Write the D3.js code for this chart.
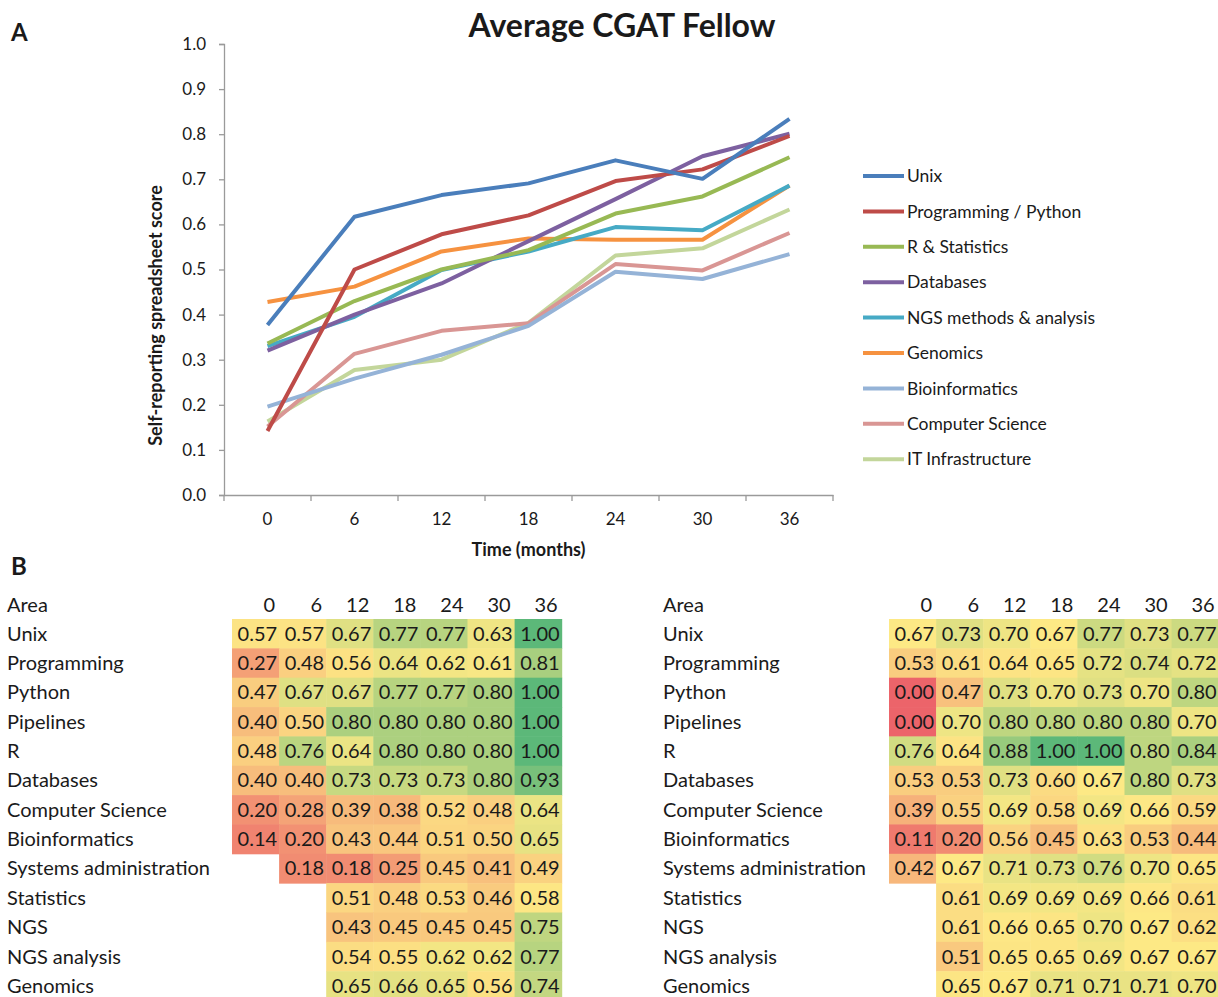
<!DOCTYPE html>
<html>
<head>
<meta charset="utf-8">
<script src="https://cdn.jsdelivr.net/npm/d3@7"></script>
<style>
  body { margin: 0; background: #fff; }
  svg { display: block; font-family: Lato, "Open Sans", sans-serif; }
</style>
</head>
<body>
<svg></svg>
<script>
// --- panel A data ---
var months = [0, 6, 12, 18, 24, 30, 36];
var seriesNames = ['Unix', 'Programming / Python', 'R & Statistics', 'Databases',
  'NGS methods & analysis', 'Genomics', 'Bioinformatics', 'Computer Science', 'IT Infrastructure'];
var seriesColors = ['#4a7ebb', '#be4b48', '#98b954', '#7d60a0', '#46aac5', '#f69240', '#95b3d7', '#d99694', '#c3d69b'];
var unix        = [0.377, 0.617, 0.665, 0.691, 0.742, 0.701, 0.834];
var programming = [0.142, 0.500, 0.578, 0.620, 0.696, 0.722, 0.796];
var rStats      = [0.336, 0.430, 0.500, 0.543, 0.624, 0.662, 0.749];
var databases   = [0.320, 0.400, 0.469, 0.563, 0.656, 0.751, 0.801];
var ngs         = [0.330, 0.395, 0.499, 0.540, 0.594, 0.587, 0.686];
var genomics    = [0.428, 0.462, 0.540, 0.569, 0.566, 0.566, 0.686];
var bioinf      = [0.196, 0.258, 0.311, 0.375, 0.495, 0.479, 0.534];
var compSci     = [0.152, 0.313, 0.364, 0.381, 0.512, 0.498, 0.581];
var itInfra     = [0.163, 0.277, 0.300, 0.382, 0.531, 0.547, 0.633];
var seriesValues = [unix, programming, rStats, databases, ngs, genomics, bioinf, compSci, itInfra];
var yTicks = [0, 0.1, 0.2, 0.3, 0.4, 0.5, 0.6, 0.7, 0.8, 0.9, 1.0];

// --- panel B data ---
var areas = ['Unix', 'Programming', 'Python', 'Pipelines', 'R', 'Databases', 'Computer Science',
  'Bioinformatics', 'Systems administration', 'Statistics', 'NGS', 'NGS analysis', 'Genomics'];
var tableLeft = [
  [0.57, 0.57, 0.67, 0.77, 0.77, 0.63, 1.00],
  [0.27, 0.48, 0.56, 0.64, 0.62, 0.61, 0.81],
  [0.47, 0.67, 0.67, 0.77, 0.77, 0.80, 1.00],
  [0.40, 0.50, 0.80, 0.80, 0.80, 0.80, 1.00],
  [0.48, 0.76, 0.64, 0.80, 0.80, 0.80, 1.00],
  [0.40, 0.40, 0.73, 0.73, 0.73, 0.80, 0.93],
  [0.20, 0.28, 0.39, 0.38, 0.52, 0.48, 0.64],
  [0.14, 0.20, 0.43, 0.44, 0.51, 0.50, 0.65],
  [null, 0.18, 0.18, 0.25, 0.45, 0.41, 0.49],
  [null, null, 0.51, 0.48, 0.53, 0.46, 0.58],
  [null, null, 0.43, 0.45, 0.45, 0.45, 0.75],
  [null, null, 0.54, 0.55, 0.62, 0.62, 0.77],
  [null, null, 0.65, 0.66, 0.65, 0.56, 0.74]
];
var tableRight = [
  [0.67, 0.73, 0.70, 0.67, 0.77, 0.73, 0.77],
  [0.53, 0.61, 0.64, 0.65, 0.72, 0.74, 0.72],
  [0.00, 0.47, 0.73, 0.70, 0.73, 0.70, 0.80],
  [0.00, 0.70, 0.80, 0.80, 0.80, 0.80, 0.70],
  [0.76, 0.64, 0.88, 1.00, 1.00, 0.80, 0.84],
  [0.53, 0.53, 0.73, 0.60, 0.67, 0.80, 0.73],
  [0.39, 0.55, 0.69, 0.58, 0.69, 0.66, 0.59],
  [0.11, 0.20, 0.56, 0.45, 0.63, 0.53, 0.44],
  [0.42, 0.67, 0.71, 0.73, 0.76, 0.70, 0.65],
  [null, 0.61, 0.69, 0.69, 0.69, 0.66, 0.61],
  [null, 0.61, 0.66, 0.65, 0.70, 0.67, 0.62],
  [null, 0.51, 0.65, 0.65, 0.69, 0.67, 0.67],
  [null, 0.65, 0.67, 0.71, 0.71, 0.71, 0.70]
];

var unit = {width: 1218, height: 997};
var svg = d3.select('svg').attr('width', unit.width).attr('height', unit.height);
var ink = '#1a1a1a', axisGrey = '#9a9a9a';

// ---------- panel A ----------
svg.append('text').attr('x', 11).attr('y', 41).attr('font-size', 24).attr('font-weight', 700)
  .attr('fill', ink).text('A');
svg.append('text').attr('x', 622).attr('y', 37).attr('text-anchor', 'middle')
  .attr('font-size', 32).attr('font-weight', 700).attr('fill', ink).text('Average CGAT Fellow');

var plot = {left: 224, right: 833, top: 44, bottom: 495};
var xBand = d3.scaleBand().domain(months).range([plot.left, plot.right]);
var y = d3.scaleLinear().domain([0, 1]).range([plot.bottom, plot.top]);
var xMid = (m) => xBand(m) + xBand.bandwidth() / 2;

var gA = svg.append('g');

var yAxis = gA.append('g')
  .attr('transform', 'translate(' + plot.left + ',0)')
  .call(d3.axisLeft(y).tickValues(yTicks).tickFormat(d3.format('.1f')).tickSize(5).tickPadding(13));
var xAxis = gA.append('g')
  .attr('transform', 'translate(0,' + plot.bottom + ')')
  .call(d3.axisBottom(xBand).tickSize(0).tickPadding(18));
// category boundary ticks, Excel style
var edges = months.map((m) => xBand(m)).concat([plot.right]);
gA.append('g').selectAll('line').data(edges).enter().append('line')
  .attr('x1', (d) => d).attr('x2', (d) => d)
  .attr('y1', plot.bottom).attr('y2', plot.bottom + 6)
  .attr('stroke', axisGrey).attr('stroke-width', 1.3);

[yAxis, xAxis].forEach(function(ax){
  ax.selectAll('path, line').attr('stroke', axisGrey).attr('stroke-width', 1.3);
  ax.selectAll('text').attr('font-size', 17).attr('fill', ink).attr('font-family', 'Lato, sans-serif');
});

gA.append('text')
  .attr('transform', 'translate(162,' + ((plot.top + plot.bottom) / 2 + 46) + ') rotate(-90)')
  .attr('text-anchor', 'middle').attr('font-size', 18).attr('font-weight', 700).attr('fill', ink)
  .text('Self-reporting spreadsheet score');
gA.append('text').attr('x', xMid(18)).attr('y', 556).attr('text-anchor', 'middle')
  .attr('font-size', 18).attr('font-weight', 700).attr('fill', ink).text('Time (months)');

var line = d3.line().x((d, i) => xMid(months[i])).y((d) => y(d));
var order = [8, 7, 6, 5, 4, 3, 2, 1, 0];
gA.append('g').selectAll('path').data(order).enter().append('path')
  .attr('d', (k) => line(seriesValues[k]))
  .attr('fill', 'none')
  .attr('stroke', (k) => seriesColors[k])
  .attr('stroke-width', 4)
  .attr('stroke-linejoin', 'round');

var legend = gA.append('g').attr('transform', 'translate(863,176)');
var leg = legend.selectAll('g').data(seriesNames).enter().append('g')
  .attr('transform', (d, i) => 'translate(0,' + (i * 35.4) + ')');
leg.append('line').attr('x1', 0).attr('x2', 41).attr('y1', 0).attr('y2', 0)
  .attr('stroke', (d, i) => seriesColors[i]).attr('stroke-width', 4);
leg.append('text').attr('x', 44).attr('dy', '0.35em').attr('font-size', 17.5).attr('fill', ink)
  .text((d) => d);

// ---------- panel B ----------
svg.append('text').attr('x', 11).attr('y', 575).attr('font-size', 24).attr('font-weight', 700)
  .attr('fill', ink).text('B');

function heatTable(data, labelX, cellX){
  var flat = [];
  data.forEach((row) => row.forEach((v) => { if (v !== null) flat.push(v); }));
  flat.sort(d3.ascending);
  // 3-colour scale: red at 0, yellow at the median, green at the max
  var color = d3.scaleLinear()
    .domain([0, d3.quantile(flat, 0.5), d3.max(flat)])
    .range(['#ec646a', '#fde985', '#5cb879'])
    .interpolate(d3.interpolateRgb);

  var cx = d3.scaleBand().domain(months).range([cellX, cellX + 7 * 47.1]);
  var ry = d3.scaleBand().domain(areas).range([619, 619 + areas.length * 29.35]);
  var g = svg.append('g');

  // header
  g.append('text').attr('x', labelX).attr('y', 605).attr('dy', '0.35em')
    .attr('font-size', 20).attr('fill', ink).text('Area');
  g.selectAll('.colHead').data(months).enter().append('text')
    .attr('x', (d) => cx(d) + cx.bandwidth() - 4).attr('y', 605).attr('dy', '0.35em')
    .attr('text-anchor', 'end').attr('font-size', 20).attr('fill', ink).text((d) => d);

  var rows = g.selectAll('.row').data(areas).enter().append('g')
    .attr('transform', (d) => 'translate(0,' + ry(d) + ')');
  rows.append('text').attr('x', labelX).attr('y', ry.bandwidth() / 2).attr('dy', '0.35em')
    .attr('font-size', 20).attr('fill', ink).text((d) => d);

  var cells = rows.selectAll('.cell')
    .data((d, i) => data[i].map((v, j) => ({v: v, m: months[j]})).filter((c) => c.v !== null))
    .enter().append('g');
  cells.append('rect')
    .attr('x', (c) => cx(c.m)).attr('y', 0)
    .attr('width', cx.bandwidth() + 0.5).attr('height', ry.bandwidth() + 0.5)
    .attr('fill', (c) => color(c.v));
  cells.append('text')
    .attr('x', (c) => cx(c.m) + cx.bandwidth() - 2).attr('y', ry.bandwidth() / 2).attr('dy', '0.35em')
    .attr('text-anchor', 'end').attr('font-size', 20).attr('fill', ink)
    .text((c) => d3.format('.2f')(c.v));
}

heatTable(tableLeft, 7, 232);
heatTable(tableRight, 663, 889);
</script>
</body>
</html>
